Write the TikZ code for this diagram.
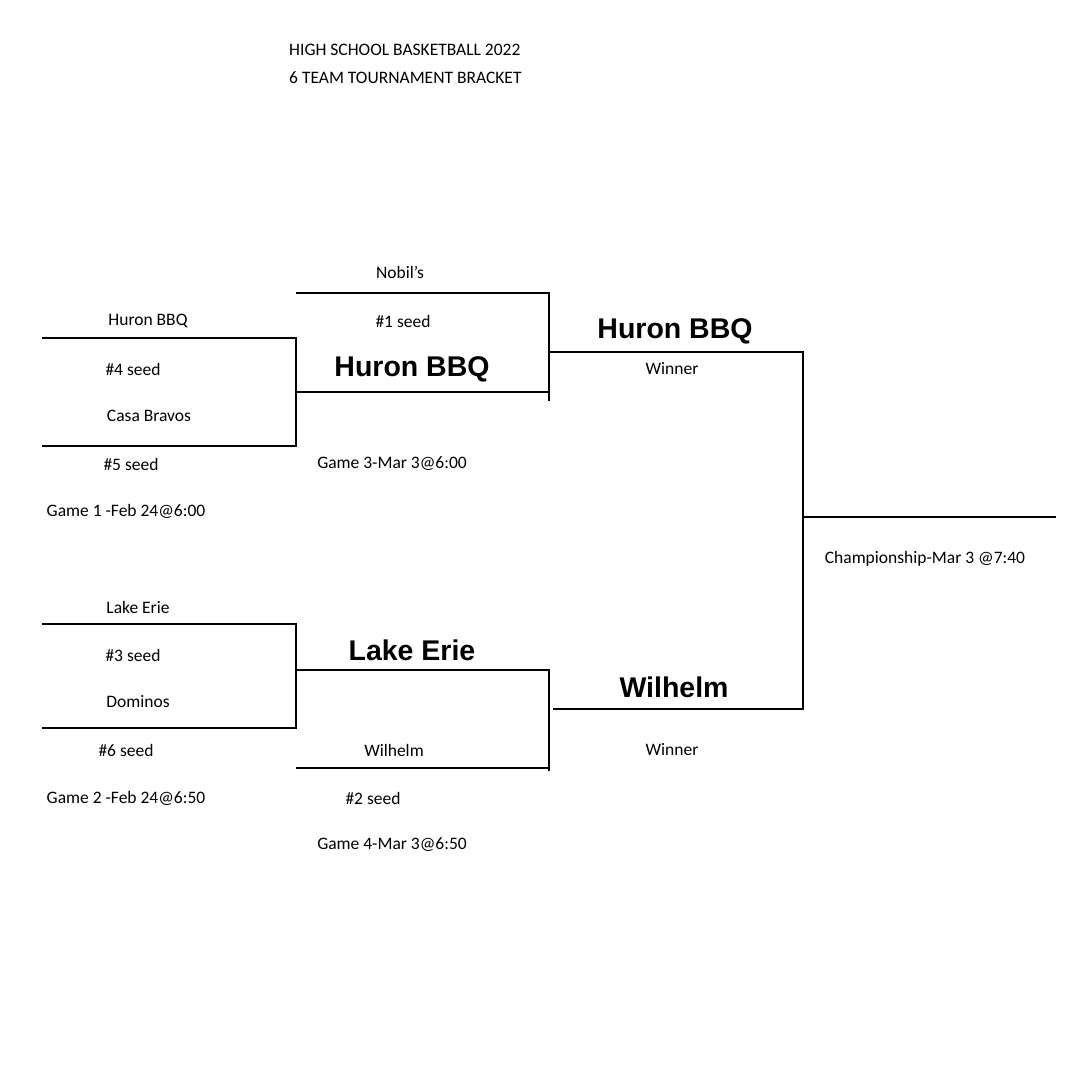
\documentclass[tikz,border=0pt]{standalone}
\usepackage{fontspec}
\setmainfont{Carlito}
\newfontfamily\boldsans{Liberation Sans}[Scale=1]
\begin{document}
\begin{tikzpicture}[x=1pt,y=-1pt,
  sm/.style={font=\fontsize{17.5}{20}\selectfont,inner sep=0pt},
  bg/.style={font=\boldsans\bfseries\fontsize{28.5}{32}\selectfont,inner sep=0pt},
  br/.style={line width=1.1pt}]
\useasboundingbox (0,0) rectangle (1080,1080);
% coordinates
\coordinate (a1) at (42,338); \coordinate (a2) at (296,338);
\coordinate (b1) at (42,446); \coordinate (b2) at (296,446);
\coordinate (c1) at (296,392); \coordinate (c2) at (549,392);
\coordinate (n1) at (296,293); \coordinate (n2) at (549,293);
\coordinate (n3) at (549,401);
\coordinate (w1) at (549,352); \coordinate (w2) at (803,352);
\coordinate (d1) at (42,624); \coordinate (d2) at (296,624);
\coordinate (e1) at (42,728); \coordinate (e2) at (296,728);
\coordinate (f1) at (296,670); \coordinate (f2) at (549,670);
\coordinate (g1) at (296,768); \coordinate (g2) at (549,768);
\coordinate (g3) at (549,771);
\coordinate (h1) at (553,709); \coordinate (h2) at (803,709);
\coordinate (k1) at (803,517); \coordinate (k2) at (1056,517);
\draw[br] (a1)--(a2)--(b2)--(b1);
\draw[br] (c1)--(c2);
\draw[br] (n1)--(n2)--(n3);
\draw[br] (w1)--(w2)--(h2)--(h1);
\draw[br] (d1)--(d2)--(e2)--(e1);
\draw[br] (f1)--(f2)--(g3);
\draw[br] (g1)--(g2);
\draw[br] (k1)--(k2);
% texts
\node[sm,anchor=west] (t1) at (289,50) {HIGH SCHOOL BASKETBALL 2022};
\node[sm,anchor=west] (t2) at (289,78) {6 TEAM TOURNAMENT BRACKET};
\node[sm] (l1) at (148,321) {Huron BBQ};
\node[sm] (l2) at (133,369) {\#4 seed};
\node[sm] (l3) at (149,416) {Casa Bravos};
\node[sm] (l4) at (131,464) {\#5 seed};
\node[sm] (l5) at (126,511) {Game 1 -Feb 24@6:00};
\node[sm] (l6) at (400,272) {Nobil’s};
\node[sm] (l7) at (403,321) {\#1 seed};
\node[sm] (l8) at (392,464) {Game 3-Mar 3@6:00};
\node[sm] (l9) at (672,369) {Winner};
\node[sm] (l10) at (925,559) {Championship-Mar 3 @7:40};
\node[sm] (l11) at (138,607) {Lake Erie};
\node[sm] (l12) at (133,655) {\#3 seed};
\node[sm] (l13) at (138,702) {Dominos};
\node[sm] (l14) at (126,750) {\#6 seed};
\node[sm] (l15) at (126,798) {Game 2 -Feb 24@6:50};
\node[sm] (l16) at (394,750) {Wilhelm};
\node[sm] (l17) at (373,798) {\#2 seed};
\node[sm] (l18) at (392,845) {Game 4-Mar 3@6:50};
\node[sm] (l19) at (672,750) {Winner};
\node[bg] (b1n) at (412,369) {Huron BBQ};
\node[bg] (b2n) at (675,331) {Huron BBQ};
\node[bg] (b3n) at (412,650) {Lake Erie};
\node[bg] (b4n) at (674,687) {Wilhelm};
\end{tikzpicture}
\end{document}
